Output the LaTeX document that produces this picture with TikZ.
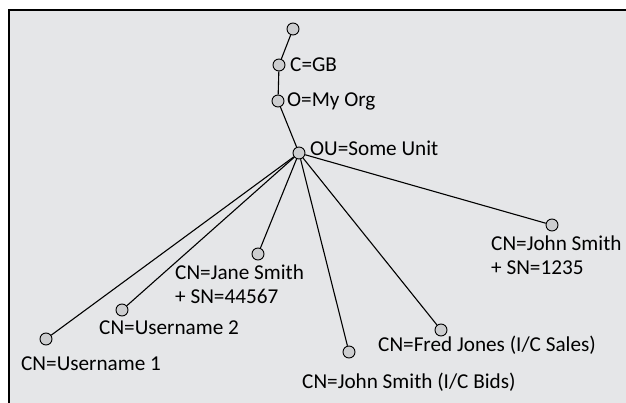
\documentclass[tikz,border=0pt]{standalone}
\usepackage{fontspec}
\setmainfont{Carlito}
\definecolor{panel}{RGB}{229,230,232}
\definecolor{dot}{RGB}{204,205,207}
\begin{document}
\begin{tikzpicture}[x=1pt,y=-1pt,
  entry/.style={circle,draw=black,fill=dot,line width=0.9pt,minimum size=12pt,inner sep=0pt},
  dn/.style={font=\fontsize{21.2}{24}\selectfont,inner sep=0pt,anchor=west,align=left},
  link/.style={line width=1.1pt}]
  % canvas: white margin, grey panel with top and left rule
  \useasboundingbox (0,0) rectangle (626,403);
  \fill[white] (0,0) rectangle (626,403);
  \fill[panel] (9,10) rectangle (626,403);
  \draw[line width=1.3pt] (626,10) -- (9,10) -- (9,403);
  % directory entries
  \node[entry] (root) at (293,29) {};
  \node[entry] (c) at (279,65) {};
  \node[entry] (o) at (278,101) {};
  \node[entry] (ou) at (299,153) {};
  \node[entry] (u1) at (46,339) {};
  \node[entry] (u2) at (122,310) {};
  \node[entry] (jane) at (258,254) {};
  \node[entry] (bids) at (349,352) {};
  \node[entry] (fred) at (441,330) {};
  \node[entry] (john) at (552,225) {};
  % tree links
  \draw[link] (root) -- (c);
  \draw[link] (c) -- (o);
  \draw[link] (o) -- (ou);
  \foreach \n in {u1,u2,jane,bids,fred,john} \draw[link] (ou) -- (\n);
  % names
  \node[dn] (lc) at (290,65) {C=GB};
  \node[dn] (lo) at (287,101) {O=My Org};
  \node[dn] (lou) at (310,148) {OU=Some Unit};
  \node[dn] (lu1) at (21,364) {CN=Username 1};
  \node[dn] (lu2) at (99,328) {CN=Username 2};
  \node[dn,anchor=north west] (ljane) at (175,265) {CN=Jane Smith\\+ SN=44567};
  \node[dn] (lbids) at (302,382) {CN=John Smith (I/C Bids)};
  \node[dn] (lfred) at (378,345) {CN=Fred Jones (I/C Sales)};
  \node[dn,anchor=north west] (ljohn) at (491,236) {CN=John Smith\\+ SN=1235};
\end{tikzpicture}
\end{document}
